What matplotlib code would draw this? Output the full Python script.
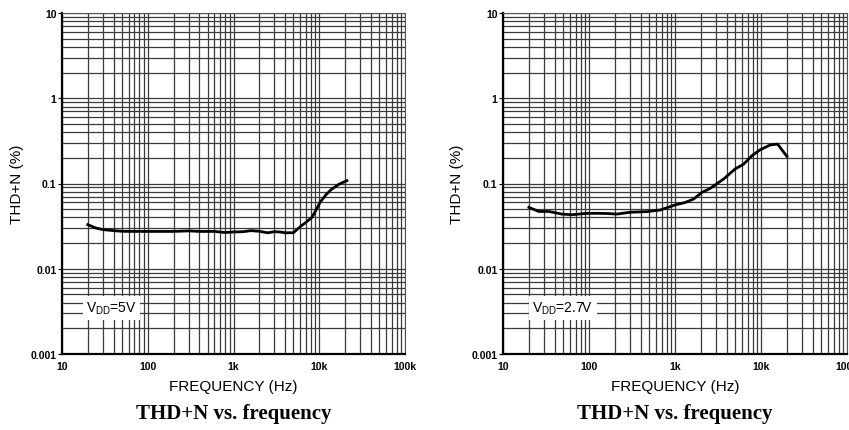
import matplotlib
matplotlib.use("Agg")
import matplotlib.pyplot as plt
from matplotlib.ticker import FixedLocator, LogLocator, NullFormatter

plt.rcParams["font.family"] = ["Liberation Sans", "DejaVu Sans"]
plt.rcParams["mathtext.fontset"] = "custom"
plt.rcParams["mathtext.rm"] = "Liberation Sans"
plt.rcParams["mathtext.it"] = "Liberation Sans"

# VDD = 5V curve
freq_5v = [20, 25, 30, 40, 50, 70, 100, 150, 200, 300, 400, 600, 800, 1000,
           1300, 1600, 2000, 2500, 3000, 3500, 4000, 5000, 6200, 7000, 8200,
           9200, 10200, 12000, 14000, 17000, 21000]
thd_5v = [0.0329, 0.030, 0.0288, 0.0280, 0.0275, 0.0274, 0.0274, 0.0274,
          0.0274, 0.0278, 0.0274, 0.0274, 0.0266, 0.0270, 0.0272, 0.0280,
          0.0275, 0.0264, 0.0272, 0.0270, 0.0264, 0.0265, 0.032, 0.0350,
          0.040, 0.049, 0.060, 0.074, 0.086, 0.098, 0.108]

# VDD = 2.7V curve
freq_27v = [20, 26, 34, 48, 63, 95, 124, 160, 212, 302, 472, 675, 1000,
            1320, 1650, 2060, 2570, 3680, 5000, 6300, 7850, 9800, 12800,
            15600, 20000]
thd_27v = [0.0525, 0.047, 0.047, 0.0438, 0.043, 0.0447, 0.0447, 0.0445,
           0.0438, 0.046, 0.0468, 0.0489, 0.056, 0.060, 0.0658, 0.0787,
           0.0877, 0.113, 0.148, 0.169, 0.212, 0.249, 0.283, 0.290, 0.208]

y_ticks = [0.001, 0.01, 0.1, 1, 10]
y_labels = ["0.001", "0.01", "0.1", "1", "10"]
x_ticks = [10, 100, 1000, 10000, 100000]
x_labels = ["10", "100", "1k", "10k", "100k"]

panels = [
    (freq_5v, thd_5v, r"V$_{\mathrm{DD}}$=5V", [62, 14, 343, 341], 0.07),
    (freq_27v, thd_27v, r"V$_{\mathrm{DD}}$=2.7V", [503, 14, 344, 341], 0.085),
]

W, H = 849, 431
fig = plt.figure(figsize=(W / 100, H / 100), dpi=100)

for freq, thd, vdd, (left, top, width, height), tx in panels:
    ax = fig.add_axes([left / W, 1 - (top + height) / H, width / W, height / H])
    ax.set_xscale("log")
    ax.set_yscale("log")
    ax.set_xlim(10, 100000)
    ax.set_ylim(0.001, 10)

    ax.xaxis.set_major_locator(FixedLocator(x_ticks))
    ax.yaxis.set_major_locator(FixedLocator(y_ticks))
    ax.xaxis.set_minor_locator(LogLocator(base=10, subs=range(2, 10)))
    ax.yaxis.set_minor_locator(LogLocator(base=10, subs=range(2, 10)))
    ax.xaxis.set_minor_formatter(NullFormatter())
    ax.yaxis.set_minor_formatter(NullFormatter())
    ax.set_xticklabels(x_labels, fontsize=7.5, fontweight="bold")
    ax.set_yticklabels(y_labels, fontsize=7.5, fontweight="bold")
    ax.tick_params(axis="x", which="both", length=0, pad=5)
    ax.tick_params(axis="y", which="major", length=3, width=0.8, pad=1)
    ax.tick_params(axis="y", which="minor", length=0)

    ax.grid(True, which="both", color="#3a3a3a", linewidth=0.9)
    ax.set_axisbelow(True)

    for side in ["top", "right"]:
        ax.spines[side].set_linewidth(0.8)
        ax.spines[side].set_color("#555555")
    for side in ["left", "bottom"]:
        ax.spines[side].set_linewidth(1.6)
        ax.spines[side].set_color("black")

    ax.plot(freq, thd, color="black", linewidth=2)

    ax.text(tx, 0.135, vdd, transform=ax.transAxes, fontsize=10,
            ha="left", va="center",
            bbox=dict(facecolor="white", edgecolor="none", pad=2.5))

    ax.set_xlabel("FREQUENCY (Hz)", fontsize=11, labelpad=6)
    ax.set_ylabel("THD+N (%)", fontsize=11, labelpad=5)

    cx = (left + width / 2) / W
    fig.text(cx, 1 - 414 / H, "THD+N vs. frequency", ha="center", va="center",
             fontsize=15, fontweight="bold", family="Liberation Serif")

fig.savefig("out.png", dpi=100)
